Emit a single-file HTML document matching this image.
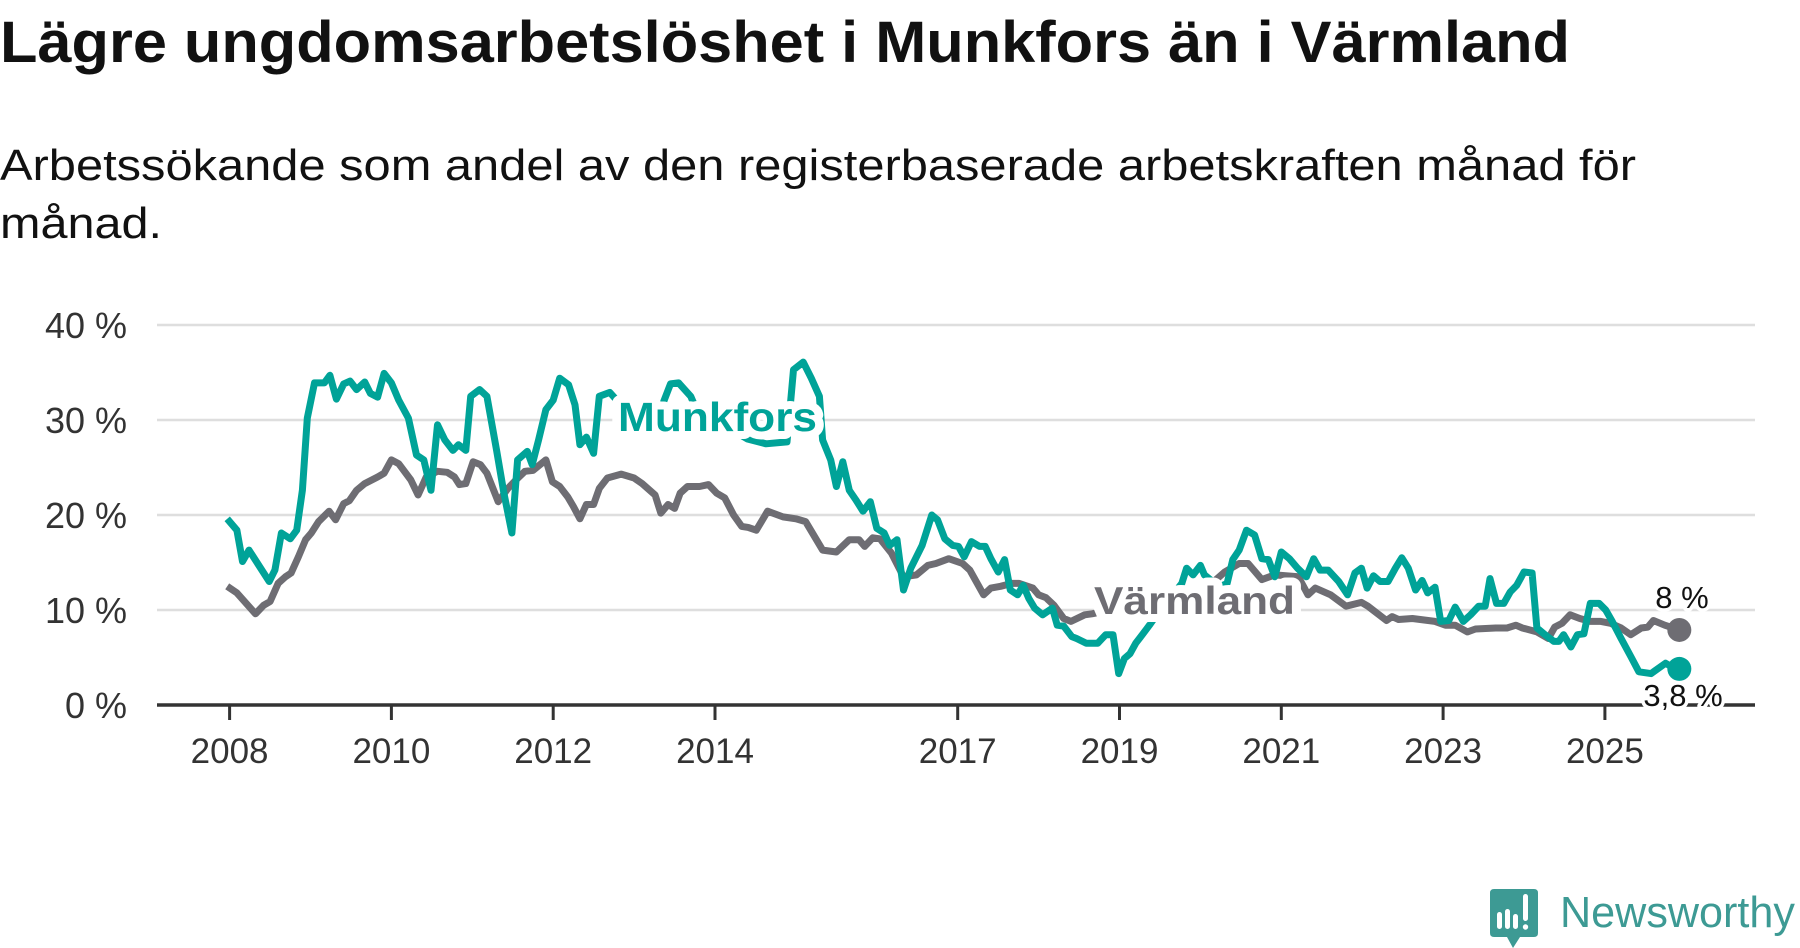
<!DOCTYPE html>
<html><head><meta charset="utf-8"><style>
html,body{margin:0;padding:0;background:#fff;}
svg{display:block;font-family:"Liberation Sans","DejaVu Sans",sans-serif;}
</style></head><body>
<svg id="chart" width="1800" height="948" viewBox="0 0 1800 948">
<text x="0" y="62" font-size="58" font-weight="bold" fill="#111" textLength="1570" lengthAdjust="spacingAndGlyphs">Lägre ungdomsarbetslöshet i Munkfors än i Värmland</text>
<text x="0" y="180" font-size="44" fill="#111" textLength="1636" lengthAdjust="spacingAndGlyphs">Arbetssökande som andel av den registerbaserade arbetskraften månad för</text>
<text x="0" y="238" font-size="44" fill="#111" textLength="162" lengthAdjust="spacingAndGlyphs">månad.</text>
<g id="grid"></g>
<g id="yticks"></g>
<g id="xaxis"></g>
<g id="lines"></g>
<g id="labels"></g>
<g>
<path d="M1494 889 H1534 Q1538 889 1538 893 V933 Q1538 937 1534 937 H1520 L1513 948 L1507 937 H1494 Q1490 937 1490 933 V893 Q1490 889 1494 889 Z" fill="#3d9a94"/>
<rect x="1497" y="912" width="5" height="17" rx="2.5" fill="#fff"/>
<rect x="1505" y="909" width="5" height="20" rx="2.5" fill="#fff"/>
<rect x="1513" y="914" width="5" height="15" rx="2.5" fill="#fff"/>
<rect x="1523" y="894" width="5" height="27" rx="2.5" fill="#fff"/>
<circle cx="1525.5" cy="927" r="2.7" fill="#fff"/>
<text x="1560" y="927" font-size="44" fill="#3d9a94" textLength="235" lengthAdjust="spacingAndGlyphs">Newsworthy</text>
</g>
</svg>
<script>
const yTicks = [0, 10, 20, 30, 40];
const yTickLabels = ["0 %", "10 %", "20 %", "30 %", "40 %"];
const xTicks = [2008, 2010, 2012, 2014, 2017, 2019, 2021, 2023, 2025];
const xTickMarks = [2008, 2010, 2012, 2014, 2017, 2019, 2021, 2023, 2025];
const munkforsDates = [2007.97,2008.09,2008.16,2008.24,2008.49,2008.56,2008.64,2008.75,2008.83,2008.9,2008.96,2009.05,2009.17,2009.24,2009.32,2009.41,2009.49,2009.57,2009.67,2009.74,2009.83,2009.91,2010.0,2010.09,2010.21,2010.31,2010.4,2010.49,2010.57,2010.66,2010.76,2010.83,2010.92,2010.98,2011.09,2011.18,2011.3,2011.39,2011.49,2011.56,2011.68,2011.74,2011.82,2011.91,2012.0,2012.08,2012.19,2012.27,2012.33,2012.41,2012.5,2012.57,2012.7,2012.9,2013.1,2013.3,2013.45,2013.55,2013.7,2013.8,2014.0,2014.2,2014.4,2014.63,2014.89,2014.97,2015.09,2015.19,2015.29,2015.33,2015.43,2015.5,2015.58,2015.66,2015.74,2015.83,2015.92,2016.0,2016.09,2016.16,2016.25,2016.33,2016.42,2016.56,2016.68,2016.75,2016.84,2016.94,2017.01,2017.08,2017.17,2017.27,2017.34,2017.41,2017.5,2017.58,2017.65,2017.74,2017.81,2017.88,2017.95,2018.05,2018.17,2018.23,2018.31,2018.41,2018.47,2018.59,2018.73,2018.83,2018.92,2018.99,2019.06,2019.13,2019.2,2019.29,2019.37,2019.5,2019.65,2019.77,2019.83,2019.91,2020.0,2020.05,2020.15,2020.25,2020.33,2020.4,2020.48,2020.57,2020.67,2020.76,2020.84,2020.92,2021.0,2021.1,2021.2,2021.31,2021.4,2021.48,2021.58,2021.71,2021.82,2021.91,2021.99,2022.06,2022.14,2022.22,2022.32,2022.41,2022.49,2022.57,2022.66,2022.74,2022.81,2022.9,2022.97,2023.07,2023.15,2023.25,2023.34,2023.44,2023.52,2023.58,2023.66,2023.75,2023.83,2023.91,2024.0,2024.1,2024.16,2024.26,2024.37,2024.43,2024.49,2024.58,2024.66,2024.74,2024.82,2024.93,2025.01,2025.09,2025.2,2025.32,2025.42,2025.57,2025.75,2025.83,2025.92];
const munkforsValues = [19.6,18.4,15.1,16.3,13.0,14.2,18.1,17.5,18.4,22.6,30.2,33.9,33.9,34.7,32.2,33.8,34.1,33.2,34.0,32.8,32.4,34.9,33.9,32.1,30.2,26.3,25.8,22.6,29.5,27.9,26.8,27.4,26.8,32.5,33.2,32.5,26.8,22.3,18.1,25.8,26.7,25.3,27.9,31.1,32.1,34.4,33.7,31.6,27.4,28.2,26.5,32.5,32.9,31.0,29.5,30.5,33.8,33.9,32.5,30.5,29.5,29.0,28.0,27.5,27.7,35.3,36.1,34.4,32.5,27.9,25.8,23.0,25.6,22.6,21.6,20.4,21.4,18.6,18.1,16.8,17.4,12.1,14.4,16.8,20.0,19.5,17.5,16.8,16.7,15.6,17.2,16.7,16.7,15.4,14.0,15.3,12.1,11.6,12.6,11.2,10.2,9.5,10.2,8.4,8.3,7.2,7.0,6.5,6.5,7.4,7.4,3.3,4.9,5.4,6.5,7.5,8.4,10.0,11.5,12.8,14.4,13.7,14.7,13.7,13.0,12.5,12.8,15.3,16.3,18.4,17.9,15.4,15.3,13.5,16.1,15.4,14.4,13.5,15.4,14.2,14.2,13.0,11.6,13.9,14.4,12.3,13.6,13.0,13.0,14.4,15.5,14.4,12.1,13.1,11.8,12.4,8.8,8.9,10.3,8.8,9.5,10.4,10.4,13.3,10.7,10.7,11.9,12.6,14.0,13.9,8.1,7.4,6.7,6.7,7.4,6.1,7.4,7.5,10.7,10.7,10.0,8.8,7.0,5.1,3.5,3.3,4.4,4.0,3.8];
const varmlandDates = [2007.97,2008.09,2008.32,2008.42,2008.5,2008.6,2008.69,2008.76,2008.85,2008.94,2009.01,2009.1,2009.23,2009.31,2009.41,2009.48,2009.57,2009.67,2009.83,2009.91,2010.0,2010.09,2010.24,2010.33,2010.43,2010.57,2010.69,2010.78,2010.84,2010.92,2011.01,2011.1,2011.18,2011.32,2011.44,2011.54,2011.65,2011.75,2011.91,2011.99,2012.08,2012.18,2012.25,2012.33,2012.41,2012.5,2012.57,2012.67,2012.84,2013.0,2013.1,2013.26,2013.33,2013.42,2013.5,2013.57,2013.66,2013.81,2013.92,2014.02,2014.12,2014.23,2014.33,2014.41,2014.51,2014.65,2014.84,2015.0,2015.12,2015.33,2015.5,2015.66,2015.78,2015.85,2015.95,2016.04,2016.18,2016.33,2016.49,2016.63,2016.73,2016.89,2017.06,2017.15,2017.32,2017.41,2017.53,2017.67,2017.76,2017.93,2018.0,2018.09,2018.19,2018.31,2018.4,2018.57,2018.66,2018.9,2019.2,2019.5,2019.8,2020.1,2020.3,2020.48,2020.59,2020.76,2020.92,2021.21,2021.33,2021.42,2021.61,2021.8,2021.99,2022.07,2022.3,2022.37,2022.45,2022.62,2022.9,2023.03,2023.15,2023.3,2023.4,2023.65,2023.79,2023.9,2023.98,2024.16,2024.3,2024.38,2024.47,2024.57,2024.69,2024.82,2024.95,2025.07,2025.2,2025.32,2025.45,2025.53,2025.6,2025.74,2025.92];
const varmlandValues = [12.5,11.8,9.6,10.5,10.9,12.8,13.5,13.9,15.6,17.4,18.1,19.3,20.4,19.5,21.2,21.5,22.6,23.3,24.0,24.4,25.8,25.4,23.7,22.1,24.0,24.6,24.5,24.0,23.2,23.3,25.6,25.3,24.4,21.4,22.8,23.7,24.6,24.7,25.8,23.5,23.0,21.9,20.9,19.6,21.1,21.1,22.8,23.9,24.3,23.9,23.3,22.1,20.2,21.1,20.7,22.3,23.0,23.0,23.2,22.3,21.8,20.0,18.8,18.7,18.4,20.4,19.8,19.6,19.3,16.3,16.1,17.4,17.4,16.7,17.6,17.5,16.0,13.5,13.7,14.7,14.9,15.4,14.9,14.2,11.6,12.3,12.5,12.8,12.8,12.3,11.6,11.3,10.5,9.1,8.8,9.5,9.6,10.0,10.3,10.8,11.5,12.5,14.0,14.9,14.9,13.2,13.7,13.5,11.6,12.3,11.6,10.4,10.8,10.4,8.9,9.3,9.0,9.1,8.8,8.4,8.4,7.7,8.0,8.1,8.1,8.4,8.1,7.7,7.0,8.2,8.6,9.5,9.1,8.8,8.8,8.6,8.1,7.4,8.1,8.2,8.9,8.4,7.9];
const endLabels = ["8 %", "3,8 %"];

const NS = "http://www.w3.org/2000/svg";
const X0 = 229.6, PX_PER_YEAR = 80.9, Y0 = 705, PX_PER_PCT = 9.5;
const PLOT_L = 157, PLOT_R = 1755;
function xs(year){ return X0 + (year - 2008) * PX_PER_YEAR; }
function ys(v){ return Y0 - v * PX_PER_PCT; }
function mk(tag, attrs, parent){ const e = document.createElementNS(NS, tag); for (const k in attrs) e.setAttribute(k, attrs[k]); parent.appendChild(e); return e; }

const grid = document.getElementById('grid');
const yt = document.getElementById('yticks');
yTicks.forEach((t, i) => {
  if (t > 0) {
    const gl = mk('line', {x1: PLOT_L, x2: PLOT_R, y1: ys(t), y2: ys(t), stroke: '#dedede', 'stroke-width': 2.5}, grid);
    
    
  }
  const lb = mk('text', {x: 127, y: ys(t) + 13, 'text-anchor': 'end', 'font-size': 36, fill: '#333'}, yt);
  lb.textContent = yTickLabels[i];
  
  
});

const xa = document.getElementById('xaxis');
xTickMarks.forEach(y => {
  const tk = mk('line', {x1: xs(y), x2: xs(y), y1: Y0, y2: 720, stroke: '#333', 'stroke-width': 3}, xa);
  
  
});
xTicks.forEach(y => {
  const lb = mk('text', {x: xs(y), y: 763, 'text-anchor': 'middle', 'font-size': 35, fill: '#333'}, xa);
  lb.textContent = String(y);
  
  
});
const ax = mk('line', {x1: PLOT_L, x2: PLOT_R, y1: Y0, y2: Y0, stroke: '#333', 'stroke-width': 3.5}, xa);



const lines = document.getElementById('lines');
function pathFor(dates, vals){ return dates.map((d, i) => (i ? 'L' : 'M') + xs(d).toFixed(1) + ' ' + ys(vals[i]).toFixed(1)).join(' '); }
const vl = mk('path', {d: pathFor(varmlandDates, varmlandValues), fill: 'none', stroke: '#6e6d73', 'stroke-width': 7, 'stroke-linejoin': 'round'}, lines);


const ml = mk('path', {d: pathFor(munkforsDates, munkforsValues), fill: 'none', stroke: '#00a398', 'stroke-width': 7, 'stroke-linejoin': 'round'}, lines);



const vLast = varmlandValues.length - 1, mLast = munkforsValues.length - 1;
const vd = mk('circle', {cx: xs(varmlandDates[vLast]), cy: ys(varmlandValues[vLast]), r: 12, fill: '#6e6d73'}, lines);


const md = mk('circle', {cx: xs(munkforsDates[mLast]), cy: ys(munkforsValues[mLast]), r: 12, fill: '#00a398'}, lines);



const labels = document.getElementById('labels');
const halo = {stroke: '#fff', 'stroke-width': 16, 'paint-order': 'stroke', 'stroke-linejoin': 'round'};
const mlab = mk('text', Object.assign({x: 618, y: 431, 'font-size': 41, 'font-weight': 'bold', fill: '#00a398', textLength: 199, lengthAdjust: 'spacingAndGlyphs'}, halo), labels);
mlab.textContent = 'Munkfors';


const vlab = mk('text', Object.assign({x: 1094, y: 614, 'font-size': 39, 'font-weight': 'bold', fill: '#6e6d73', textLength: 201, lengthAdjust: 'spacingAndGlyphs'}, halo), labels);
vlab.textContent = 'Värmland';


const e1 = mk('text', Object.assign({x: 1682, y: 608, 'font-size': 31, 'text-anchor': 'middle', fill: '#111'}, halo, {'stroke-width': 7}), labels);
e1.textContent = endLabels[0];


const e2 = mk('text', Object.assign({x: 1683, y: 706, 'font-size': 31, 'text-anchor': 'middle', fill: '#111'}, halo, {'stroke-width': 7}), labels);
e2.textContent = endLabels[1];


</script>
</body></html>
